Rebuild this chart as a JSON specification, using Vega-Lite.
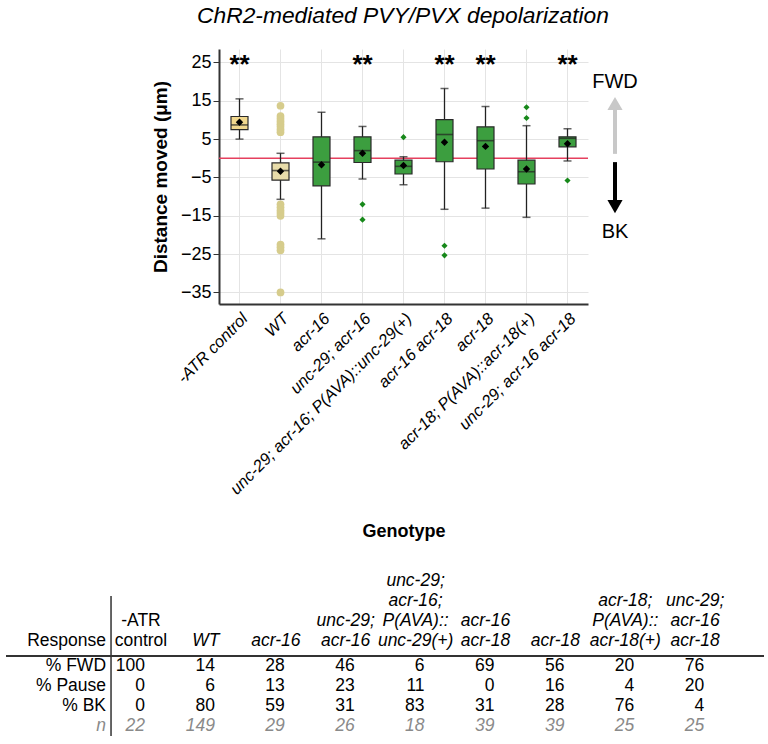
{
  "$schema": "https://vega.github.io/schema/vega-lite/v6.json",
  "padding": 5,
  "title": {"text": "ChR2-mediated PVY/PVX depolarization", "font": "Liberation Sans", "fontSize": 22.8, "fontStyle": "italic", "fontWeight": "normal", "color": "#000000", "anchor": "middle", "dx": 18, "offset": 20},
  "config": {
    "view": {"stroke": null},
    "font": "Liberation Sans",
    "axisX": {"labelAngle": -45, "labelFontStyle": "italic", "labelFontSize": 16.5, "labelColor": "#000000", "labelLimit": 400, "labelPadding": 6, "domainColor": "#333333", "domainWidth": 2, "ticks": false, "grid": true, "gridColor": "#e4e4e4", "titleFontSize": 18, "titleFontWeight": "bold", "titleColor": "#000000", "titlePadding": 25},
    "axisY": {"labelFontSize": 18, "labelColor": "#000000", "domainColor": "#333333", "domainWidth": 2, "tickColor": "#333333", "tickSize": 6, "grid": true, "gridColor": "#e4e4e4", "titleFontSize": 19, "titleFontWeight": "bold", "titleColor": "#000000", "titlePadding": 10}
  },
  "datasets": {
    "box": [
      {"g": "-ATR control", "grp": "atr", "lo": 5.0, "q1": 7.5, "med": 8.7, "q3": 10.9, "hi": 15.5, "mean": 9.4, "star": "**"},
      {"g": "WT", "grp": "wt", "lo": -10.7, "q1": -5.7, "med": -3.2, "q3": -1.2, "hi": 1.3, "mean": -3.4, "star": ""},
      {"g": "acr-16", "grp": "mut", "lo": -21.0, "q1": -7.2, "med": -1.0, "q3": 5.6, "hi": 12.0, "mean": -1.7, "star": ""},
      {"g": "unc-29; acr-16", "grp": "mut", "lo": -5.4, "q1": -1.1, "med": 2.0, "q3": 5.6, "hi": 8.3, "mean": 1.3, "star": "**"},
      {"g": "unc-29; acr-16; P(AVA)::unc-29(+)", "grp": "mut", "lo": -6.9, "q1": -4.1, "med": -2.1, "q3": -0.5, "hi": 0.4, "mean": -1.9, "star": ""},
      {"g": "acr-16 acr-18", "grp": "mut", "lo": -13.3, "q1": -0.9, "med": 6.2, "q3": 10.1, "hi": 18.2, "mean": 4.2, "star": "**"},
      {"g": "acr-18", "grp": "mut", "lo": -13.0, "q1": -2.8, "med": 4.6, "q3": 8.2, "hi": 13.5, "mean": 3.1, "star": "**"},
      {"g": "acr-18; P(AVA)::acr-18(+)", "grp": "mut", "lo": -15.4, "q1": -6.7, "med": -3.5, "q3": -0.5, "hi": 8.5, "mean": -2.8, "star": ""},
      {"g": "unc-29; acr-16 acr-18", "grp": "mut", "lo": -0.7, "q1": 3.0, "med": 5.2, "q3": 5.6, "hi": 7.7, "mean": 3.8, "star": "**"}
    ],
    "outliers": [
      {"g": "WT", "grp": "wt", "v": 13.7}, {"g": "WT", "grp": "wt", "v": 11.0}, {"g": "WT", "grp": "wt", "v": 10.3},
      {"g": "WT", "grp": "wt", "v": 9.6}, {"g": "WT", "grp": "wt", "v": 8.9}, {"g": "WT", "grp": "wt", "v": 8.2},
      {"g": "WT", "grp": "wt", "v": 7.5}, {"g": "WT", "grp": "wt", "v": 6.8},
      {"g": "WT", "grp": "wt", "v": -12.0}, {"g": "WT", "grp": "wt", "v": -12.8}, {"g": "WT", "grp": "wt", "v": -13.6},
      {"g": "WT", "grp": "wt", "v": -14.3}, {"g": "WT", "grp": "wt", "v": -15.0},
      {"g": "WT", "grp": "wt", "v": -22.5}, {"g": "WT", "grp": "wt", "v": -23.2}, {"g": "WT", "grp": "wt", "v": -24.0},
      {"g": "WT", "grp": "wt", "v": -35.0},
      {"g": "unc-29; acr-16", "grp": "mut", "v": -12.0}, {"g": "unc-29; acr-16", "grp": "mut", "v": -16.0},
      {"g": "unc-29; acr-16; P(AVA)::unc-29(+)", "grp": "mut", "v": 5.5},
      {"g": "acr-16 acr-18", "grp": "mut", "v": -22.8}, {"g": "acr-16 acr-18", "grp": "mut", "v": -25.3},
      {"g": "acr-18; P(AVA)::acr-18(+)", "grp": "mut", "v": 13.3}, {"g": "acr-18; P(AVA)::acr-18(+)", "grp": "mut", "v": 10.5},
      {"g": "unc-29; acr-16 acr-18", "grp": "mut", "v": -5.8}
    ],
    "arrows": [
      {"dir": "FWD", "from": 1.15, "to": 13.0, "head": 14.3, "labely": 20.0},
      {"dir": "BK", "from": -1.0, "to": -11.0, "head": -12.6, "labely": -19.2}
    ],
    "heads": [
      {"g": "-ATR control", "lvl": "t1", "t": "-ATR"},
      {"g": "-ATR control", "lvl": "hdr", "t": "control"},
      {"g": "WT", "lvl": "hdr", "t": "WT"},
      {"g": "acr-16", "lvl": "hdr", "t": "acr-16"},
      {"g": "unc-29; acr-16", "lvl": "t1", "t": "unc-29;"},
      {"g": "unc-29; acr-16", "lvl": "hdr", "t": "acr-16"},
      {"g": "unc-29; acr-16; P(AVA)::unc-29(+)", "lvl": "t3", "t": "unc-29;"},
      {"g": "unc-29; acr-16; P(AVA)::unc-29(+)", "lvl": "t2", "t": "acr-16;"},
      {"g": "unc-29; acr-16; P(AVA)::unc-29(+)", "lvl": "t1", "t": "P(AVA)::"},
      {"g": "unc-29; acr-16; P(AVA)::unc-29(+)", "lvl": "hdr", "t": "unc-29(+)"},
      {"g": "acr-16 acr-18", "lvl": "t1", "t": "acr-16"},
      {"g": "acr-16 acr-18", "lvl": "hdr", "t": "acr-18"},
      {"g": "acr-18", "lvl": "hdr", "t": "acr-18"},
      {"g": "acr-18; P(AVA)::acr-18(+)", "lvl": "t2", "t": "acr-18;"},
      {"g": "acr-18; P(AVA)::acr-18(+)", "lvl": "t1", "t": "P(AVA)::"},
      {"g": "acr-18; P(AVA)::acr-18(+)", "lvl": "hdr", "t": "acr-18(+)"},
      {"g": "unc-29; acr-16 acr-18", "lvl": "t2", "t": "unc-29;"},
      {"g": "unc-29; acr-16 acr-18", "lvl": "t1", "t": "acr-16"},
      {"g": "unc-29; acr-16 acr-18", "lvl": "hdr", "t": "acr-18"}
    ],
    "rowlabels": [
      {"r": "FWD", "t": "% FWD"}, {"r": "Pause", "t": "% Pause"}, {"r": "BK", "t": "% BK"}, {"r": "n", "t": "n"}
    ],
    "resp": [
      {"g": "-ATR control", "r": "FWD", "v": 100}, {"g": "-ATR control", "r": "Pause", "v": 0}, {"g": "-ATR control", "r": "BK", "v": 0}, {"g": "-ATR control", "r": "n", "v": 22},
      {"g": "WT", "r": "FWD", "v": 14}, {"g": "WT", "r": "Pause", "v": 6}, {"g": "WT", "r": "BK", "v": 80}, {"g": "WT", "r": "n", "v": 149},
      {"g": "acr-16", "r": "FWD", "v": 28}, {"g": "acr-16", "r": "Pause", "v": 13}, {"g": "acr-16", "r": "BK", "v": 59}, {"g": "acr-16", "r": "n", "v": 29},
      {"g": "unc-29; acr-16", "r": "FWD", "v": 46}, {"g": "unc-29; acr-16", "r": "Pause", "v": 23}, {"g": "unc-29; acr-16", "r": "BK", "v": 31}, {"g": "unc-29; acr-16", "r": "n", "v": 26},
      {"g": "unc-29; acr-16; P(AVA)::unc-29(+)", "r": "FWD", "v": 6}, {"g": "unc-29; acr-16; P(AVA)::unc-29(+)", "r": "Pause", "v": 11}, {"g": "unc-29; acr-16; P(AVA)::unc-29(+)", "r": "BK", "v": 83}, {"g": "unc-29; acr-16; P(AVA)::unc-29(+)", "r": "n", "v": 18},
      {"g": "acr-16 acr-18", "r": "FWD", "v": 69}, {"g": "acr-16 acr-18", "r": "Pause", "v": 0}, {"g": "acr-16 acr-18", "r": "BK", "v": 31}, {"g": "acr-16 acr-18", "r": "n", "v": 39},
      {"g": "acr-18", "r": "FWD", "v": 56}, {"g": "acr-18", "r": "Pause", "v": 16}, {"g": "acr-18", "r": "BK", "v": 28}, {"g": "acr-18", "r": "n", "v": 39},
      {"g": "acr-18; P(AVA)::acr-18(+)", "r": "FWD", "v": 20}, {"g": "acr-18; P(AVA)::acr-18(+)", "r": "Pause", "v": 4}, {"g": "acr-18; P(AVA)::acr-18(+)", "r": "BK", "v": 76}, {"g": "acr-18; P(AVA)::acr-18(+)", "r": "n", "v": 25},
      {"g": "unc-29; acr-16 acr-18", "r": "FWD", "v": 76}, {"g": "unc-29; acr-16 acr-18", "r": "Pause", "v": 20}, {"g": "unc-29; acr-16 acr-18", "r": "BK", "v": 4}, {"g": "unc-29; acr-16 acr-18", "r": "n", "v": 25}
    ]
  },
  "spacing": 31,
  "vconcat": [
    {
      "spacing": 0,
      "resolve": {"scale": {"color": "independent", "shape": "independent", "size": "independent", "fill": "independent"}},
      "hconcat": [
        {"width": 145, "height": 10, "data": {"values": [{}]}, "mark": {"type": "text", "text": ""}},
        {
          "width": 369,
          "height": 255,
          "data": {"name": "box"},
          "layer": [
            {
              "data": {"values": [{}]},
              "mark": {"type": "rule", "color": "#e5405e", "strokeWidth": 1.5},
              "encoding": {"y": {"datum": 0, "type": "quantitative", "title": "Distance moved (μm)", "scale": {"domain": [-38, 28.5], "nice": false, "zero": false}, "axis": {"values": [-35, -25, -15, -5, 5, 15, 25]}}}
            },
            {
              "mark": {"type": "rule", "color": "#222222", "strokeWidth": 1.3},
              "encoding": {
                "x": {"field": "g", "type": "nominal", "title": "Genotype", "sort": null, "scale": {"type": "band", "domain": ["-ATR control", "WT", "acr-16", "unc-29; acr-16", "unc-29; acr-16; P(AVA)::unc-29(+)", "acr-16 acr-18", "acr-18", "acr-18; P(AVA)::acr-18(+)", "unc-29; acr-16 acr-18"], "paddingInner": 0, "paddingOuter": 0}},
                "y": {"field": "lo", "type": "quantitative", "title": "Distance moved (μm)"},
                "y2": {"field": "hi"}
              }
            },
            {
              "mark": {"type": "tick", "color": "#222222", "size": 8, "thickness": 1.5},
              "encoding": {
                "x": {"field": "g", "type": "nominal", "title": "Genotype"},
                "y": {"field": "lo", "type": "quantitative", "title": "Distance moved (μm)"}
              }
            },
            {
              "mark": {"type": "tick", "color": "#222222", "size": 8, "thickness": 1.5},
              "encoding": {
                "x": {"field": "g", "type": "nominal", "title": "Genotype"},
                "y": {"field": "hi", "type": "quantitative", "title": "Distance moved (μm)"}
              }
            },
            {
              "mark": {"type": "bar", "size": 17, "stroke": "#2a2a2a", "strokeWidth": 1.2},
              "encoding": {
                "x": {"field": "g", "type": "nominal", "title": "Genotype"},
                "y": {"field": "q1", "type": "quantitative", "title": "Distance moved (μm)"},
                "y2": {"field": "q3"},
                "fill": {"field": "grp", "type": "nominal", "scale": {"domain": ["atr", "wt", "mut"], "range": ["#f1d88e", "#e8dcaa", "#3c9e3f"]}, "legend": null}
              }
            },
            {
              "mark": {"type": "tick", "color": "#222222", "size": 17, "thickness": 1.6},
              "encoding": {
                "x": {"field": "g", "type": "nominal", "title": "Genotype"},
                "y": {"field": "med", "type": "quantitative", "title": "Distance moved (μm)"}
              }
            },
            {
              "mark": {"type": "point", "shape": "diamond", "filled": true, "color": "#000000", "size": 55, "opacity": 1},
              "encoding": {
                "x": {"field": "g", "type": "nominal", "title": "Genotype"},
                "y": {"field": "mean", "type": "quantitative", "title": "Distance moved (μm)"}
              }
            },
            {
              "data": {"name": "outliers"},
              "mark": {"type": "point", "filled": true, "opacity": 1},
              "encoding": {
                "x": {"field": "g", "type": "nominal", "title": "Genotype"},
                "y": {"field": "v", "type": "quantitative", "title": "Distance moved (μm)"},
                "color": {"field": "grp", "type": "nominal", "scale": {"domain": ["wt", "mut"], "range": ["#d6cc8c", "#17881a"]}, "legend": null},
                "shape": {"field": "grp", "type": "nominal", "scale": {"domain": ["wt", "mut"], "range": ["circle", "diamond"]}, "legend": null},
                "size": {"field": "grp", "type": "nominal", "scale": {"domain": ["wt", "mut"], "range": [60, 38]}, "legend": null}
              }
            },
            {
              "transform": [{"filter": "datum.star !== ''"}],
              "mark": {"type": "text", "fontSize": 26, "fontWeight": "bold", "baseline": "middle", "color": "#000000"},
              "encoding": {
                "x": {"field": "g", "type": "nominal", "title": "Genotype"},
                "y": {"datum": 24.4, "type": "quantitative", "title": "Distance moved (μm)"},
                "text": {"field": "star"}
              }
            }
          ]
        },
        {
          "width": 52,
          "height": 255,
          "data": {"name": "arrows"},
          "layer": [
            {
              "mark": {"type": "rule", "strokeWidth": 4},
              "encoding": {
                "y": {"field": "from", "type": "quantitative", "scale": {"domain": [-38, 28.5], "nice": false, "zero": false}, "axis": null},
                "y2": {"field": "to"},
                "color": {"field": "dir", "type": "nominal", "scale": {"domain": ["FWD", "BK"], "range": ["#c8c8c8", "#000000"]}, "legend": null}
              }
            },
            {
              "mark": {"type": "point", "filled": true, "size": 230, "opacity": 1},
              "encoding": {
                "y": {"field": "head", "type": "quantitative", "axis": null},
                "color": {"field": "dir", "type": "nominal", "legend": null},
                "shape": {"field": "dir", "type": "nominal", "scale": {"domain": ["FWD", "BK"], "range": ["triangle-up", "triangle-down"]}, "legend": null}
              }
            },
            {
              "mark": {"type": "text", "fontSize": 20, "color": "#000000", "baseline": "middle"},
              "encoding": {
                "y": {"field": "labely", "type": "quantitative", "axis": null},
                "text": {"field": "dir"}
              }
            }
          ]
        }
      ]
    },
    {
      "width": 758,
      "height": 160,
      "layer": [
        {
          "data": {"values": [{"c": "-ATR control", "top": "t2", "bot": "n"}]},
          "mark": {"type": "rule", "color": "#333333", "strokeWidth": 1.5},
          "encoding": {
            "x": {"field": "c", "type": "nominal", "bandPosition": 0.143, "axis": null, "scale": {"type": "band", "domain": ["Response", "-ATR control", "WT", "acr-16", "unc-29; acr-16", "unc-29; acr-16; P(AVA)::unc-29(+)", "acr-16 acr-18", "acr-18", "acr-18; P(AVA)::acr-18(+)", "unc-29; acr-16 acr-18"], "paddingInner": 0, "paddingOuter": 0.422, "align": 0.426}},
            "y": {"field": "top", "type": "nominal", "bandPosition": 0, "axis": null, "scale": {"type": "band", "domain": ["t3", "t2", "t1", "hdr", "FWD", "Pause", "BK", "n"], "paddingInner": 0, "paddingOuter": 0}},
            "y2": {"field": "bot", "bandPosition": 1}
          }
        },
        {
          "data": {"values": [{"r": "FWD"}]},
          "mark": {"type": "rule", "color": "#333333", "strokeWidth": 2},
          "encoding": {
            "y": {"field": "r", "type": "nominal", "bandPosition": 0, "axis": null}
          }
        },
        {
          "data": {"values": [{"c": "Response", "r": "hdr", "t": "Response"}]},
          "mark": {"type": "text", "align": "right", "baseline": "bottom", "dx": 5, "dy": 4, "fontSize": 17.5, "color": "#000000"},
          "encoding": {
            "x": {"field": "c", "type": "nominal", "bandPosition": 1, "axis": null},
            "y": {"field": "r", "type": "nominal", "axis": null},
            "text": {"field": "t"}
          }
        },
        {
          "data": {"name": "heads"},
          "transform": [{"filter": "datum.g !== '-ATR control'"}],
          "mark": {"type": "text", "align": "center", "baseline": "bottom", "dx": 0, "dy": 4, "fontSize": 17.5, "fontStyle": "italic", "color": "#000000"},
          "encoding": {
            "x": {"field": "g", "type": "nominal", "bandPosition": 0.5, "axis": null},
            "y": {"field": "lvl", "type": "nominal", "axis": null},
            "text": {"field": "t"}
          }
        },
        {
          "data": {"name": "heads"},
          "transform": [{"filter": "datum.g === '-ATR control'"}],
          "mark": {"type": "text", "align": "center", "baseline": "bottom", "dx": 5, "dy": 4, "fontSize": 17.5, "color": "#000000"},
          "encoding": {
            "x": {"field": "g", "type": "nominal", "bandPosition": 0.5, "axis": null},
            "y": {"field": "lvl", "type": "nominal", "axis": null},
            "text": {"field": "t"}
          }
        },
        {
          "data": {"name": "rowlabels"},
          "transform": [{"filter": "datum.r !== 'n'"}],
          "mark": {"type": "text", "align": "right", "baseline": "middle", "dx": 5, "fontSize": 17.5, "color": "#000000"},
          "encoding": {
            "x": {"datum": "Response", "type": "nominal", "bandPosition": 1, "axis": null},
            "y": {"field": "r", "type": "nominal", "axis": null},
            "text": {"field": "t"}
          }
        },
        {
          "data": {"name": "rowlabels"},
          "transform": [{"filter": "datum.r === 'n'"}],
          "mark": {"type": "text", "align": "right", "baseline": "middle", "dx": 5, "fontSize": 17.5, "fontStyle": "italic", "color": "#8a8a8a"},
          "encoding": {
            "x": {"datum": "Response", "type": "nominal", "bandPosition": 1, "axis": null},
            "y": {"field": "r", "type": "nominal", "axis": null},
            "text": {"field": "t"}
          }
        },
        {
          "data": {"name": "resp"},
          "transform": [{"filter": "datum.r !== 'n'"}],
          "mark": {"type": "text", "align": "right", "baseline": "middle", "dx": 9, "fontSize": 17.5, "color": "#000000"},
          "encoding": {
            "x": {"field": "g", "type": "nominal", "bandPosition": 0.5, "axis": null},
            "y": {"field": "r", "type": "nominal", "axis": null},
            "text": {"field": "v", "type": "quantitative", "format": "d"}
          }
        },
        {
          "data": {"name": "resp"},
          "transform": [{"filter": "datum.r === 'n'"}],
          "mark": {"type": "text", "align": "right", "baseline": "middle", "dx": 9, "fontSize": 17.5, "fontStyle": "italic", "color": "#8a8a8a"},
          "encoding": {
            "x": {"field": "g", "type": "nominal", "bandPosition": 0.5, "axis": null},
            "y": {"field": "r", "type": "nominal", "axis": null},
            "text": {"field": "v", "type": "quantitative", "format": "d"}
          }
        }
      ]
    }
  ]
}
